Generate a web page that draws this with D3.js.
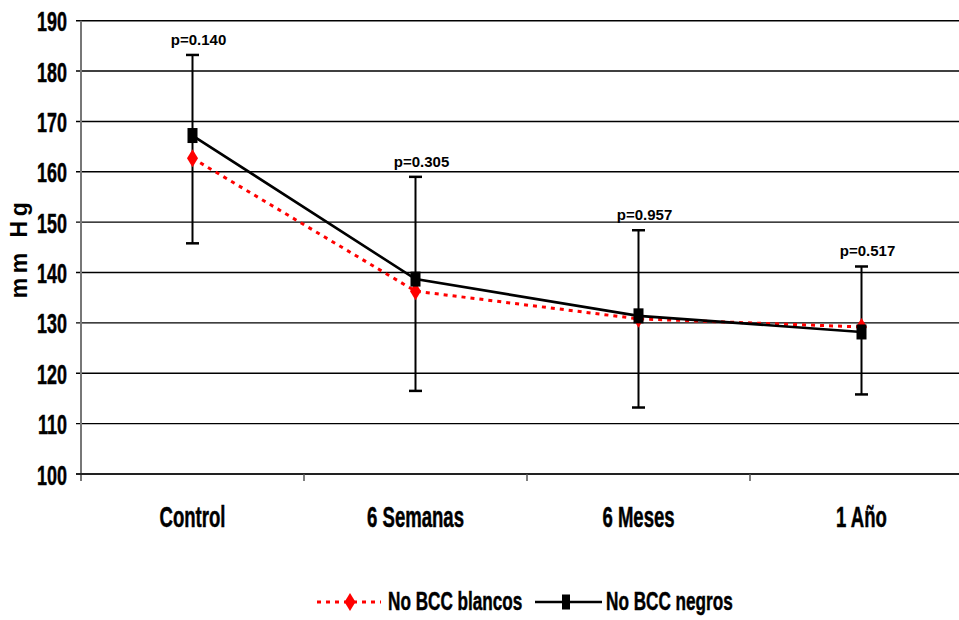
<!DOCTYPE html>
<html>
<head>
<meta charset="utf-8">
<script src="https://cdnjs.cloudflare.com/ajax/libs/d3/7.8.5/d3.min.js"></script>
<style>
  body { margin: 0; background: #fff; }
  text { font-family: "Liberation Sans", Arial, sans-serif; font-weight: bold; }
  .heavy { stroke: #000; stroke-width: 0.5px; }
</style>
</head>
<body>
<div id="chart"></div>
<script>
// ------------------- //
// DATA
// ------------------- //
var categories = ["Control", "6 Semanas", "6 Meses", "1 Año"]
var blancos = [162.7, 136.3, 130.8, 129.2]   // No BCC blancos
var negros  = [167.2, 138.7, 131.4, 128.2]   // No BCC negros
var errHigh = [183.2, 159.0, 148.4, 141.2]
var errLow  = [145.8, 116.5, 113.2, 115.8]
var pValues = ["p=0.140", "p=0.305", "p=0.957", "p=0.517"]
var yTicks  = [100, 110, 120, 130, 140, 150, 160, 170, 180, 190]

// ------------------- //
// SETUP
// ------------------- //
var W = 959, H = 620
var plotLeft = 81, plotRight = 973, plotTop = 20.7, plotBottom = 474
var sx = 0.64   // narrow look of the labels

var svg = d3.select("#chart").append("svg")
  .attr("width", W)
  .attr("height", H)

var x = d3.scaleBand()
  .domain(categories)
  .range([plotLeft, plotRight])
  .padding(0)

var y = d3.scaleLinear()
  .domain([100, 190])
  .range([plotBottom, plotTop])

function cx(d) { return x(d) + x.bandwidth() / 2 }

// gridlines
svg.selectAll(".grid")
  .data(yTicks.slice(1))
  .enter()
  .append("line")
    .attr("x1", plotLeft - 5)
    .attr("x2", plotRight)
    .attr("y1", function(d) { return y(d) })
    .attr("y2", function(d) { return y(d) })
    .attr("stroke", "#000")
    .attr("stroke-width", 1.4)

// y tick labels
svg.selectAll(".ytick")
  .data(yTicks)
  .enter()
  .append("text")
    .attr("class", "heavy")
    .attr("transform", function(d) { return "translate(67," + (y(d) + 10.5) + ") scale(" + sx + ",1)" })
    .attr("text-anchor", "end")
    .style("font-size", "28px")
    .text(function(d) { return d })

// left axis
svg.append("line")
  .attr("x1", plotLeft).attr("x2", plotLeft)
  .attr("y1", plotTop).attr("y2", plotBottom + 7)
  .attr("stroke", "#777")
  .attr("stroke-width", 2)

// bottom axis + ticks
svg.append("line")
  .attr("x1", plotLeft - 5).attr("x2", plotRight)
  .attr("y1", plotBottom).attr("y2", plotBottom)
  .attr("stroke", "#222")
  .attr("stroke-width", 2)

svg.selectAll(".xtick")
  .data(categories.slice(1))
  .enter()
  .append("line")
    .attr("x1", function(d) { return x(d) })
    .attr("x2", function(d) { return x(d) })
    .attr("y1", plotBottom)
    .attr("y2", plotBottom + 7)
    .attr("stroke", "#555")
    .attr("stroke-width", 1.5)

// category labels
svg.selectAll(".xlab")
  .data(categories)
  .enter()
  .append("text")
    .attr("class", "heavy")
    .attr("transform", function(d) { return "translate(" + cx(d) + ",527) scale(" + sx + ",1)" })
    .attr("text-anchor", "middle")
    .style("font-size", "29px")
    .text(function(d) { return d })

// y axis title
svg.append("text")
  .attr("transform", "translate(27,248) rotate(-90)")
  .attr("text-anchor", "middle")
  .style("font-size", "23px")
  .style("letter-spacing", "4.5px")
  .text("mm Hg")

// ------------------- //
// ERROR BARS
// ------------------- //
var eb = svg.selectAll(".err")
  .data(categories)
  .enter()
  .append("g")

eb.append("line")
  .attr("x1", function(d) { return cx(d) })
  .attr("x2", function(d) { return cx(d) })
  .attr("y1", function(d, i) { return y(errHigh[i]) })
  .attr("y2", function(d, i) { return y(errLow[i]) })
  .attr("stroke", "#000")
  .attr("stroke-width", 2)

eb.selectAll(".cap")
  .data(function(d, i) { return [{c: d, v: errHigh[i]}, {c: d, v: errLow[i]}] })
  .enter()
  .append("line")
    .attr("x1", function(d) { return cx(d.c) - 6.5 })
    .attr("x2", function(d) { return cx(d.c) + 6.5 })
    .attr("y1", function(d) { return y(d.v) })
    .attr("y2", function(d) { return y(d.v) })
    .attr("stroke", "#000")
    .attr("stroke-width", 2.5)

// p values
svg.selectAll(".pval")
  .data(pValues)
  .enter()
  .append("text")
    .attr("x", function(d, i) { return cx(categories[i]) + 6 })
    .attr("y", function(d, i) { return y(errHigh[i]) - 10 })
    .attr("text-anchor", "middle")
    .style("font-size", "15px")
    .text(function(d) { return d })

// ------------------- //
// SERIES
// ------------------- //
var line = d3.line()
  .x(function(d, i) { return cx(categories[i]) })
  .y(function(d) { return y(d) })

svg.append("path")
  .datum(blancos)
  .attr("d", line)
  .attr("fill", "none")
  .attr("stroke", "#ff0000")
  .attr("stroke-width", 3)
  .attr("stroke-dasharray", "4,5")

function diamond(g, px, py) {
  g.append("path")
    .attr("d", "M" + px + "," + (py - 9) + "L" + (px + 5.5) + "," + py + "L" + px + "," + (py + 9) + "L" + (px - 5.5) + "," + py + "Z")
    .attr("fill", "#ff0000")
}

blancos.forEach(function(v, i) { diamond(svg, cx(categories[i]), y(v)) })

svg.append("path")
  .datum(negros)
  .attr("d", line)
  .attr("fill", "none")
  .attr("stroke", "#000")
  .attr("stroke-width", 2.6)

svg.selectAll(".sq")
  .data(negros)
  .enter()
  .append("rect")
    .attr("x", function(d, i) { return cx(categories[i]) - 5 })
    .attr("y", function(d) { return y(d) - 7.5 })
    .attr("width", 10)
    .attr("height", 15)
    .attr("fill", "#000")

// ------------------- //
// LEGEND
// ------------------- //
var ly = 602
svg.append("line")
  .attr("x1", 317).attr("x2", 381)
  .attr("y1", ly).attr("y2", ly)
  .attr("stroke", "#ff0000")
  .attr("stroke-width", 3)
  .attr("stroke-dasharray", "4,5")
diamond(svg, 350, ly)
svg.append("text")
  .attr("class", "heavy")
  .attr("transform", "translate(388,610) scale(0.66,1)")
  .style("font-size", "26px")
  .text("No BCC blancos")

svg.append("line")
  .attr("x1", 535).attr("x2", 602)
  .attr("y1", ly).attr("y2", ly)
  .attr("stroke", "#000")
  .attr("stroke-width", 2.6)
svg.append("rect")
  .attr("x", 562).attr("y", ly - 7.5)
  .attr("width", 8).attr("height", 15)
  .attr("fill", "#000")
svg.append("text")
  .attr("class", "heavy")
  .attr("transform", "translate(606,610) scale(0.66,1)")
  .style("font-size", "26px")
  .text("No BCC negros")
</script>
</body>
</html>
